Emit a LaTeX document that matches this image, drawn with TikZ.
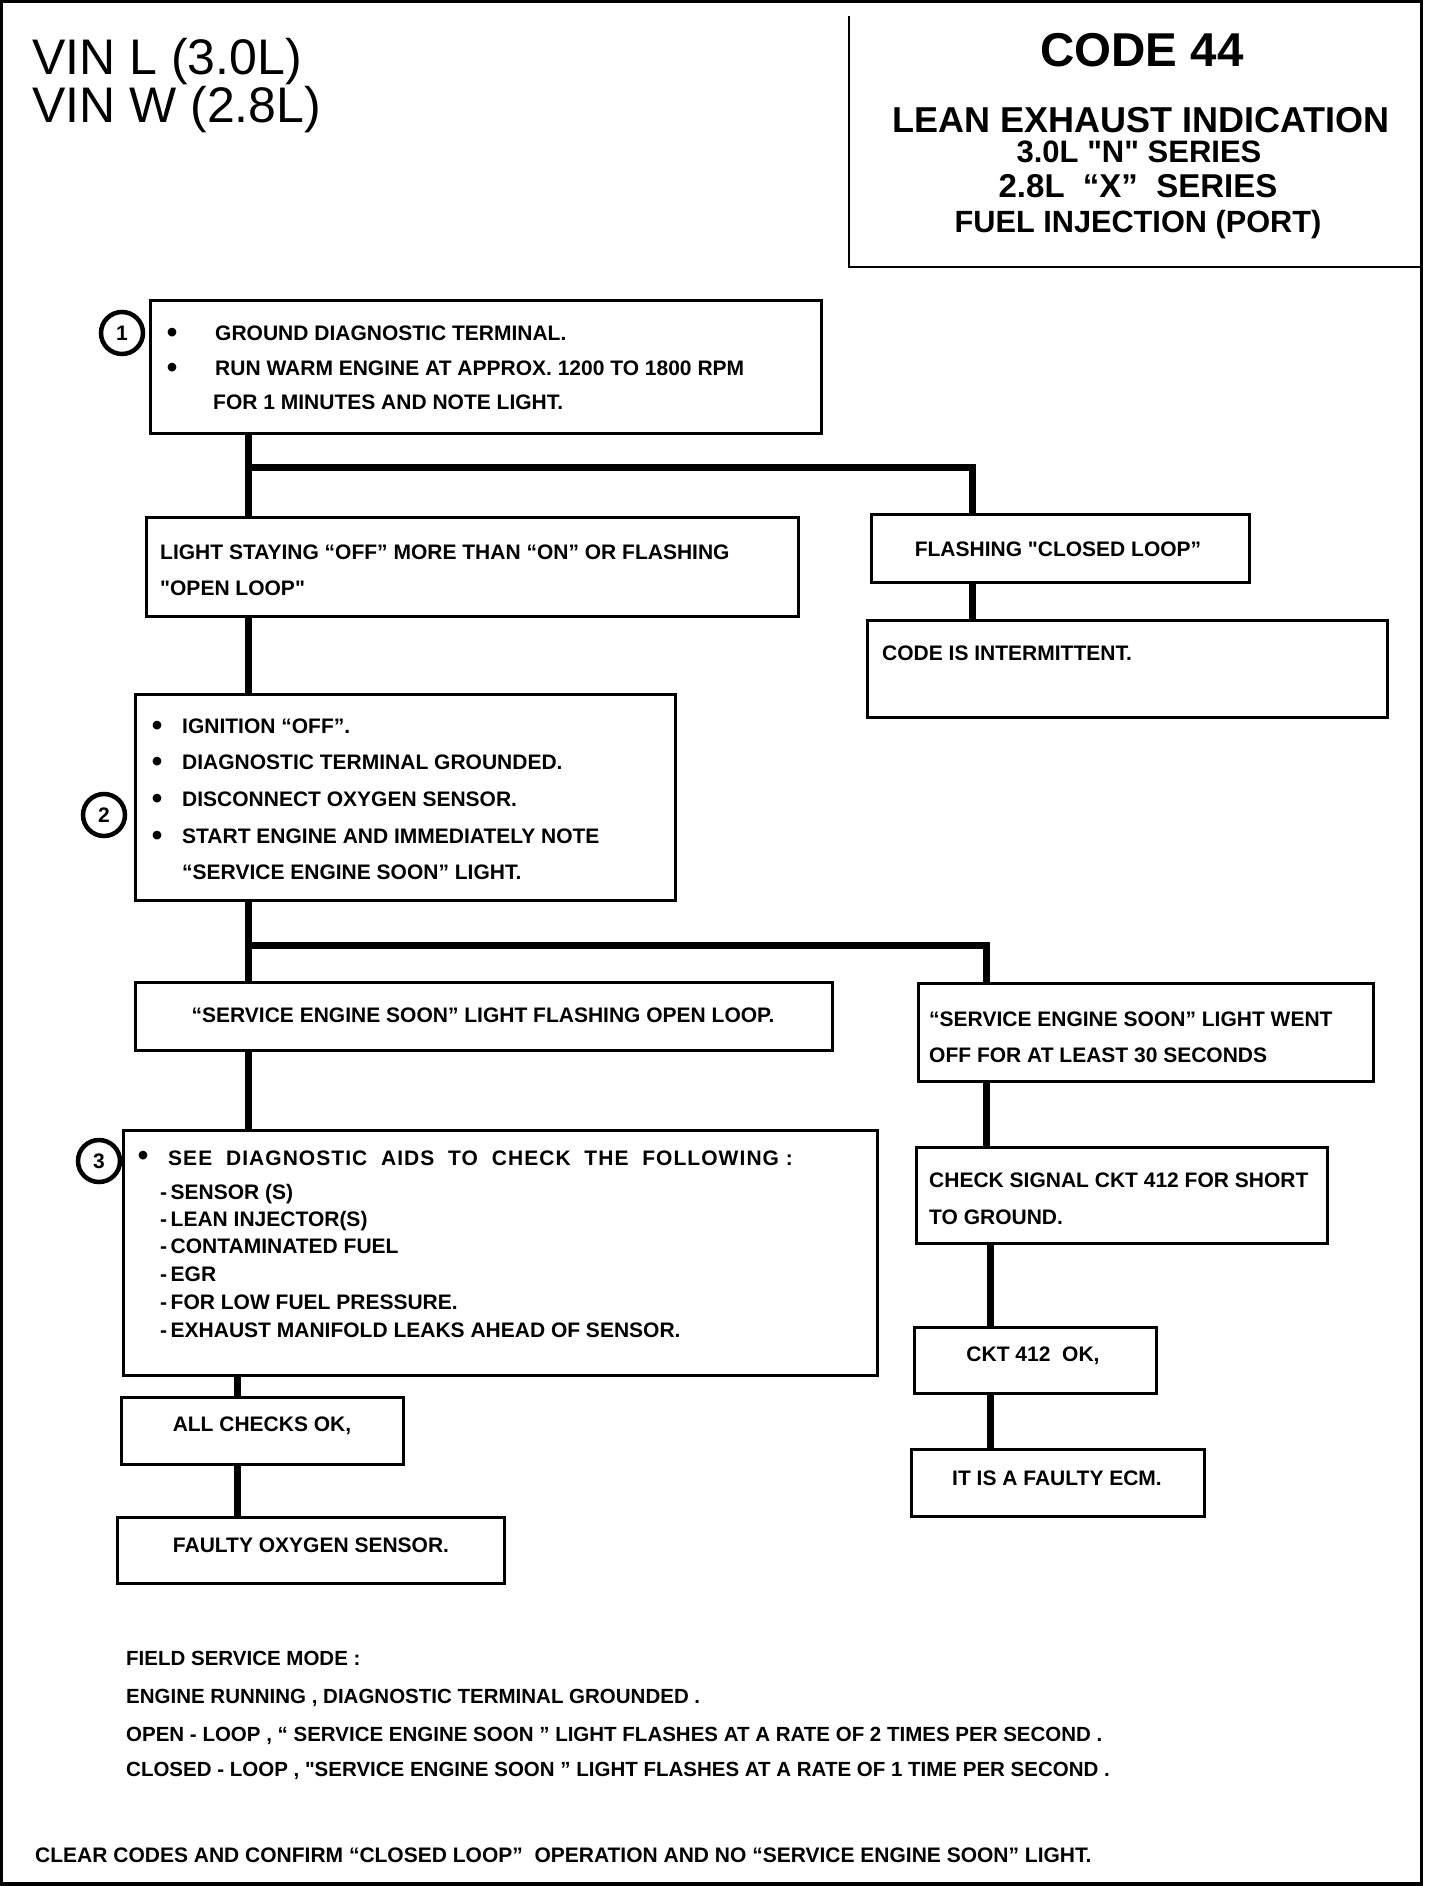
\documentclass[tikz,border=0pt]{standalone}
\usepackage{fontspec}
\setmainfont{Liberation Sans}[Ligatures=TeXOff]
\newfontfamily\spacedfont{Liberation Sans}[Ligatures=TeXOff,LetterSpace=5]
\begin{document}
\begin{tikzpicture}[x=1pt,y=-1pt,
  box/.style={draw, line width=3pt, rectangle, inner sep=0pt, outer sep=0pt},
  conn/.style={line width=7pt},
  txt/.style={anchor=base west, inner sep=0pt, font=\fontsize{21}{25}\selectfont\bfseries},
  ctxt/.style={txt, anchor=base},
  dot/.style={anchor=base, inner sep=0pt, font=\fontsize{30}{30}\selectfont\bfseries},
  foot/.style={txt, font=\fontsize{20.5}{25}\selectfont\bfseries},
  num/.style={circle, draw, line width=4.5pt, minimum size=42pt, inner sep=0pt, font=\fontsize{21}{24}\selectfont\bfseries}]
\useasboundingbox (0,0) rectangle (1440,1886);
\fill[white] (0,0) rectangle (1440,1886);
% frame
\node[draw, line width=3.5pt, inner sep=0pt, outer sep=0pt, minimum width=1420pt, minimum height=1882.5pt] (frame) at (711.5,942.75) {};
% title block
\node[inner sep=0pt, outer sep=0pt, minimum width=572pt, minimum height=251pt] (title) at (1135,141.5) {};
\draw[line width=2.5pt] (title.north west) -- (title.south west) -- (title.south east);
\node[anchor=base west, inner sep=0pt, font=\fontsize{50}{60}\selectfont] (vin1) at (32,75) {VIN L (3.0L)};
\node[anchor=base west, inner sep=0pt, font=\fontsize{50}{60}\selectfont] (vin2) at (32,123) {VIN W (2.8L)};
\node[anchor=base, inner sep=0pt, font=\fontsize{47.5}{56}\selectfont\bfseries] (code) at (1142,67) {CODE 44};
\node[anchor=base, inner sep=0pt, font=\fontsize{36}{42}\selectfont\bfseries] (t1) at (1141,133) {LEAN EXHAUST INDICATION};
\node[anchor=base, inner sep=0pt, font=\fontsize{31}{36}\selectfont\bfseries] (t2) at (1139,163) {3.0L "N" SERIES};
\node[anchor=base, inner sep=0pt, font=\fontsize{33}{38}\selectfont\bfseries] (t3) at (1138,198) {2.8L\ \ “X”\ \ SERIES};
\node[anchor=base, inner sep=0pt, font=\fontsize{30.7}{36}\selectfont\bfseries] (t4) at (1138,233) {FUEL INJECTION (PORT)};

% boxes
\node[box, minimum width=671pt, minimum height=133pt] (b1) at (485.5,366.5) {};
\node[box, minimum width=652pt, minimum height=99pt] (bL) at (472,566.5) {};
\node[box, minimum width=378pt, minimum height=68pt] (bF) at (1060,548) {};
\node[box, minimum width=520pt, minimum height=97pt] (bI) at (1127,668.5) {};
\node[box, minimum width=540pt, minimum height=206pt] (b2) at (405,797) {};
\node[box, minimum width=697pt, minimum height=68pt] (bO) at (483.5,1016) {};
\node[box, minimum width=455pt, minimum height=98pt] (bW) at (1145.5,1032) {};
\node[box, minimum width=754pt, minimum height=245pt] (b3) at (500,1252.5) {};
\node[box, minimum width=411pt, minimum height=96pt] (bC) at (1121.5,1195) {};
\node[box, minimum width=242pt, minimum height=66pt] (bK) at (1035,1360) {};
\node[box, minimum width=293pt, minimum height=67pt] (bE) at (1057.5,1482.5) {};
\node[box, minimum width=282pt, minimum height=67pt] (bA) at (262,1430.5) {};
\node[box, minimum width=387pt, minimum height=66pt] (bX) at (310.5,1550) {};

% step numbers
\node[num] (n1) at (122,333) {1};
\node[num] (n2) at (104,815) {2};
\node[num] (n3) at (99,1161) {3};

% connector columns
\coordinate (xA) at (248,0);
\coordinate (xB) at (972,0);
\coordinate (xC) at (986,0);
\coordinate (xD) at (990,0);
\coordinate (xE) at (237,0);
\coordinate (j1) at (248,467);
\coordinate (j2) at (248,945);

\draw[conn] (b1.south -| xA) -- (bL.north -| xA);
\draw[conn] (j1) -| (bF.north -| xB);
\draw[conn] (bF.south -| xB) -- (bI.north -| xB);
\draw[conn] (bL.south -| xA) -- (b2.north -| xA);
\draw[conn] (b2.south -| xA) -- (bO.north -| xA);
\draw[conn] (j2) -| (bW.north -| xC);
\draw[conn] (bO.south -| xA) -- (b3.north -| xA);
\draw[conn] (bW.south -| xC) -- (bC.north -| xC);
\draw[conn] (bC.south -| xD) -- (bK.north -| xD);
\draw[conn] (bK.south -| xD) -- (bE.north -| xD);
\draw[conn] (b3.south -| xE) -- (bA.north -| xE);
\draw[conn] (bA.south -| xE) -- (bX.north -| xE);

% box 1 text
\node[dot] (b1d1) at (172,342) {•};
\node[txt] (b1l1) at (215,340) {GROUND DIAGNOSTIC TERMINAL.};
\node[dot] (b1d2) at (172,377) {•};
\node[txt] (b1l2) at (215,375) {RUN WARM ENGINE AT APPROX. 1200 TO 1800 RPM};
\node[txt] (b1l3) at (213,409) {FOR 1 MINUTES AND NOTE LIGHT.};
% light staying
\node[txt] (bLl1) at (160,559) {LIGHT STAYING “OFF” MORE THAN “ON” OR FLASHING};
\node[txt] (bLl2) at (160,595) {"OPEN LOOP"};
\node[ctxt] (bFl) at (1058,556) {FLASHING "CLOSED LOOP”};
\node[txt] (bIl) at (882,660) {CODE IS INTERMITTENT.};
% box 2
\node[dot] (b2d1) at (157,735) {•};
\node[txt] (b2l1) at (182,733) {IGNITION “OFF”.};
\node[dot] (b2d2) at (157,771) {•};
\node[txt] (b2l2) at (182,769) {DIAGNOSTIC TERMINAL GROUNDED.};
\node[dot] (b2d3) at (157,808) {•};
\node[txt] (b2l3) at (182,806) {DISCONNECT OXYGEN SENSOR.};
\node[dot] (b2d4) at (157,845) {•};
\node[txt] (b2l4) at (182,843) {START ENGINE AND IMMEDIATELY NOTE};
\node[txt] (b2l5) at (182,879) {“SERVICE ENGINE SOON” LIGHT.};
% second split
\node[ctxt] (bOl) at (483,1022) {“SERVICE ENGINE SOON” LIGHT FLASHING OPEN LOOP.};
\node[txt] (bWl1) at (929,1026) {“SERVICE ENGINE SOON” LIGHT WENT};
\node[txt] (bWl2) at (929,1062) {OFF FOR AT LEAST 30 SECONDS};
% box 3
\node[dot] (b3d) at (143,1165) {•};
\node[txt, font=\fontsize{21}{25}\spacedfont\bfseries] (b3l0) at (168,1165) {SEE\ \ DIAGNOSTIC\ \ AIDS\ \ TO\ \ CHECK\ \ THE\ \ FOLLOWING :};
\node[txt] (b3l1) at (160,1199) {-\,SENSOR (S)};
\node[txt] (b3l2) at (160,1226) {-\,LEAN INJECTOR(S)};
\node[txt] (b3l3) at (160,1253) {-\,CONTAMINATED FUEL};
\node[txt] (b3l4) at (160,1281) {-\,EGR};
\node[txt] (b3l5) at (160,1309) {-\,FOR LOW FUEL PRESSURE.};
\node[txt] (b3l6) at (160,1337) {-\,EXHAUST MANIFOLD LEAKS AHEAD OF SENSOR.};
% right column
\node[txt] (bCl1) at (929,1187) {CHECK SIGNAL CKT 412 FOR SHORT};
\node[txt] (bCl2) at (929,1224) {TO GROUND.};
\node[ctxt] (bKl) at (1033,1361) {CKT 412\ \ OK,};
\node[ctxt] (bEl) at (1057,1485) {IT IS A FAULTY ECM.};
% left bottom
\node[ctxt] (bAl) at (262,1431) {ALL CHECKS OK,};
\node[ctxt] (bXl) at (311,1552) {FAULTY OXYGEN SENSOR.};
% notes
\node[foot] (f1) at (126,1665) {FIELD SERVICE MODE :};
\node[foot] (f2) at (126,1703) {ENGINE RUNNING , DIAGNOSTIC TERMINAL GROUNDED .};
\node[foot] (f3) at (126,1741) {OPEN - LOOP , “ SERVICE ENGINE SOON ” LIGHT FLASHES AT A RATE OF 2 TIMES PER SECOND .};
\node[foot] (f4) at (126,1776) {CLOSED - LOOP , "SERVICE ENGINE SOON ” LIGHT FLASHES AT A RATE OF 1 TIME PER SECOND .};
\node[txt] (clr) at (35,1862) {CLEAR CODES AND CONFIRM “CLOSED LOOP”\ \ OPERATION AND NO “SERVICE ENGINE SOON” LIGHT.};
\end{tikzpicture}
\end{document}
